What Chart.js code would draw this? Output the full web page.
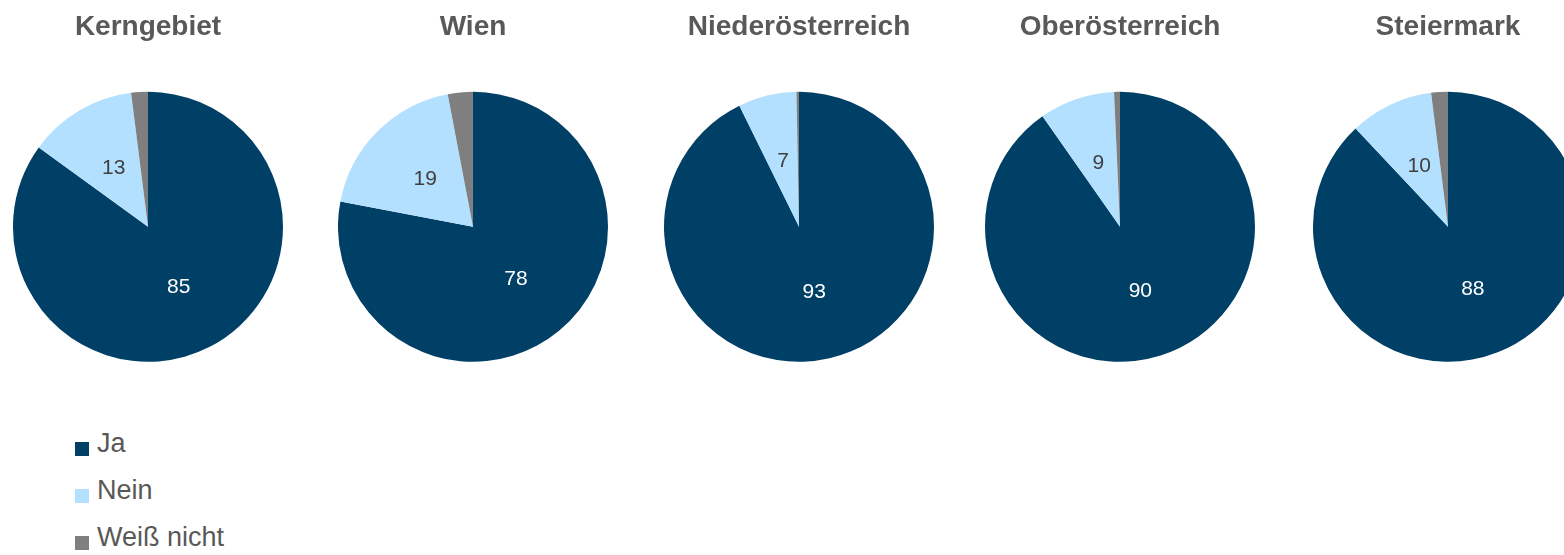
<!DOCTYPE html>
<html>
<head>
<meta charset="utf-8">
<script src="https://cdn.jsdelivr.net/npm/chart.js@4"></script>
<style>
  html, body { margin: 0; padding: 0; background: #fff; overflow: hidden; }
  body { width: 1564px; height: 555px; position: relative; font-family: "Liberation Sans", Arial, sans-serif; }
  .pie { position: absolute; top: 0; width: 270px; height: 362px; }
  .legend { position: absolute; left: 75px; top: 420px; color: #595959; font-size: 27px; }
  .legend div { height: 47px; display: flex; align-items: center; }
  .legend span.sw { display: inline-block; width: 14px; height: 14px; margin-right: 8px; margin-top: 10px; }
</style>
</head>
<body>
<div class="pie"><canvas id="c0"></canvas></div>
<div class="pie"><canvas id="c1"></canvas></div>
<div class="pie"><canvas id="c2"></canvas></div>
<div class="pie"><canvas id="c3"></canvas></div>
<div class="pie"><canvas id="c4"></canvas></div>
<div class="legend" id="legend"></div>
<script>
// daten
const regionen = ['Kerngebiet', 'Wien', 'Niederösterreich', 'Oberösterreich', 'Steiermark'];
const antworten = ['Ja', 'Nein', 'Weiß nicht'];
const ja = [85, 78, 93, 90, 88];
const nein = [13, 19, 7, 9, 10];
const weissNicht = [2, 3, 0.3, 0.7, 2];
const farben = ['#003F66', '#B3E0FF', '#7F7F7F'];

// mittelpunkt x jeder torte
const mitteX = [148, 473, 799, 1120, 1448];

// werte in die torte schreiben (nur Ja und Nein)
const wertePlugin = {
  id: 'werte',
  afterDatasetsDraw(chart) {
    const ctx = chart.ctx;
    const meta = chart.getDatasetMeta(0);
    ctx.save();
    ctx.textAlign = 'center';
    ctx.textBaseline = 'middle';
    ctx.font = '21px "Liberation Sans", Arial, sans-serif';
    meta.data.forEach((arc, i) => {
      if (i > 1) return;
      const p = arc.getCenterPoint();
      ctx.fillStyle = i == 0 ? '#ffffff' : '#404040';
      ctx.fillText(chart.data.datasets[0].data[i], p.x, p.y);
    });
    ctx.restore();
  }
};

const boxen = document.querySelectorAll('.pie');
regionen.forEach((name, k) => {
  boxen[k].style.left = (mitteX[k] - 135) + 'px';
  new Chart(document.getElementById('c' + k), {
    type: 'pie',
    data: {
      labels: antworten,
      datasets: [{
        data: [ja[k], nein[k], weissNicht[k]],
        backgroundColor: farben,
        borderWidth: 0
      }]
    },
    options: {
      responsive: true,
      maintainAspectRatio: false,
      animation: false,
      events: [],
      layout: { padding: 0 },
      plugins: {
        legend: { display: false },
        tooltip: { enabled: false },
        title: {
          display: true,
          text: name,
          color: '#595959',
          font: { size: 28, weight: 'bold', family: '"Liberation Sans", Arial, sans-serif' },
          padding: { top: 10, bottom: 48 }
        }
      }
    },
    plugins: [wertePlugin]
  });
});

// legende
const legend = document.getElementById('legend');
antworten.forEach((a, i) => {
  const row = document.createElement('div');
  row.innerHTML = `<span class="sw" style="background:${farben[i]}"></span>${a}`;
  legend.appendChild(row);
});
</script>
</body>
</html>
